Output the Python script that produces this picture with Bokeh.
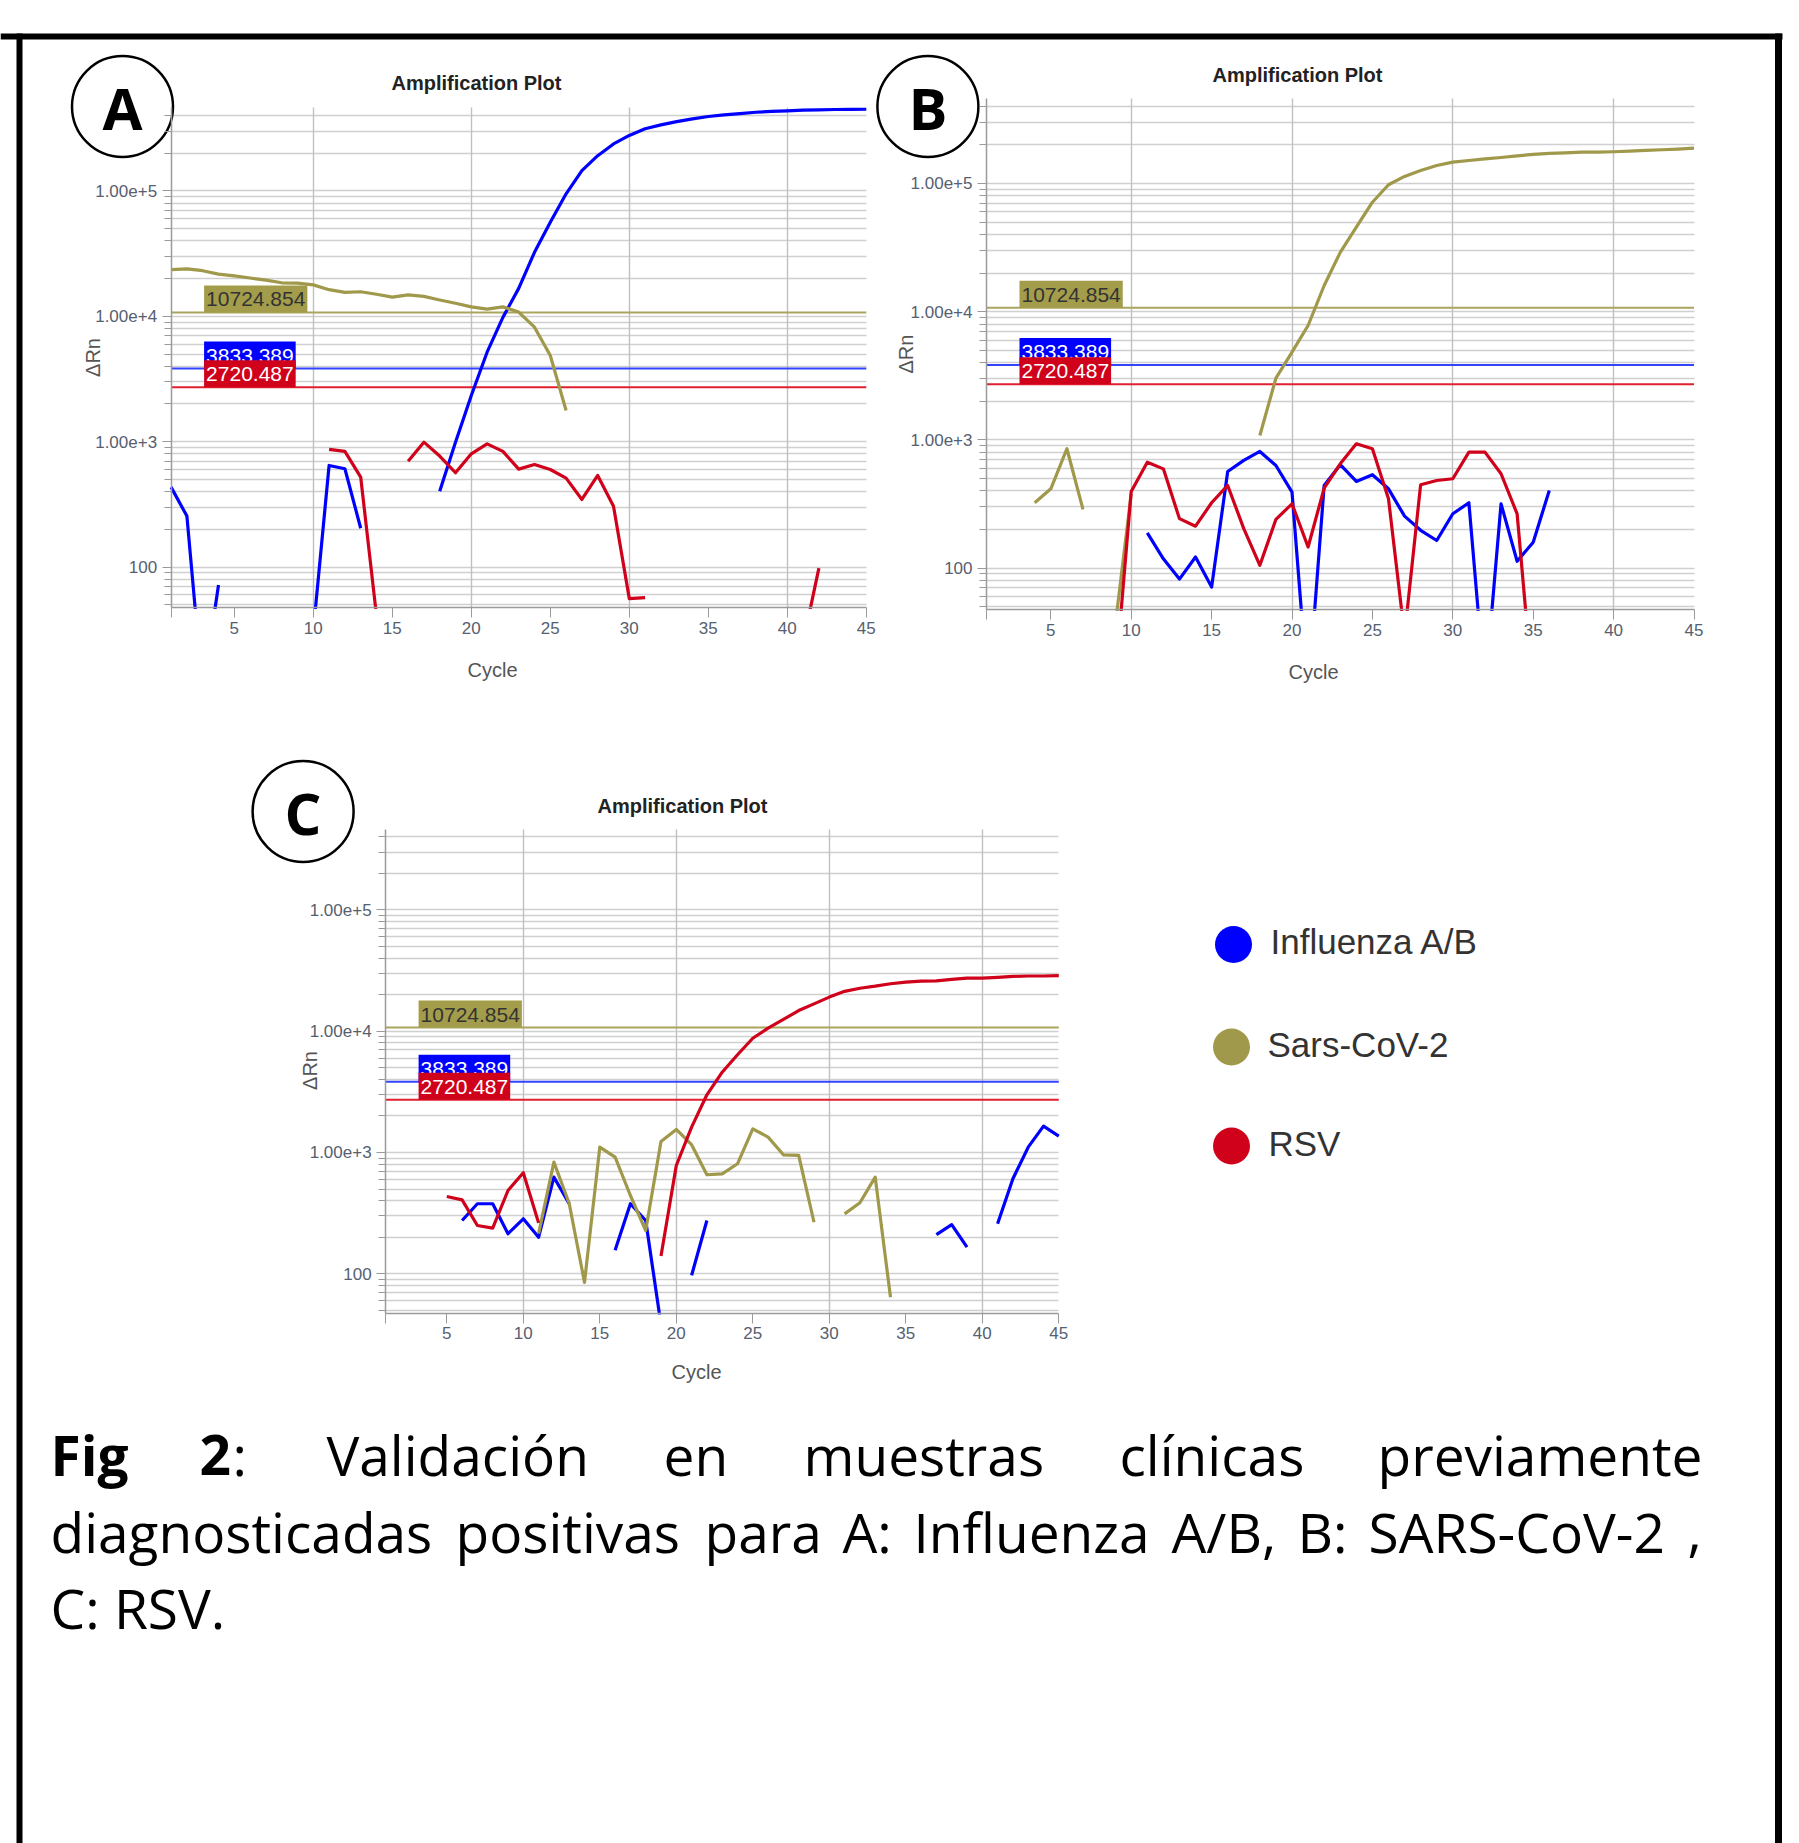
import numpy as np
from bokeh.plotting import figure
from bokeh.models import (Range1d, LinearScale, LogScale, LinearAxis, LogAxis, FixedTicker,
                          Grid, Label, CustomJSTickFormatter)
from bokeh.core.properties import value
from bokeh.embed import file_html
from bokeh.resources import INLINE

nan = np.nan

# ---------------- data ----------------
CYCLES = list(range(1, 46))

# Panel A (Influenza A/B positive sample)
A_FLU = [434, 255, 10, 72, nan, nan, nan, nan, nan, 31, 646, 608, 204, nan, nan, nan, nan,
         403, 990, 2335, 5170, 9800, 16700, 32400, 56300, 94800, 145000, 191000, 237000,
         277000, 313000, 336000, 357000, 375000, 392000, 404000, 414000, 424000, 430000,
         435000, 440000, 443000, 446000, 447000, 448000]
A_SARS = [23600, 23900, 23100, 21700, 21000, 20200, 19400, 18500, 18400, 17800, 16300, 15500,
          15700, 15000, 14200, 14800, 14400, 13500, 12700, 11900, 11400, 11900, 10800, 8190,
          4870, 1774] + [nan] * 19
A_RSV = [nan] * 10 + [867, 836, 521, 41, nan, 699, 991, 768, 565, 800, 961, 836, 604, 658, 600,
                      512, 346, 538, 306, 56, 57] + [nan] * 9 + [25, 98, nan, nan, nan]

# Panel B (SARS-CoV-2 positive sample)
B_FLU = [nan] * 10 + [188, 118, 82, 122, 71, 567, 691, 812, 631, 391, 10, 441, 640, 474, 535,
                      415, 254, 197, 164, 265, 323, 11, 317, 113, 159, 403] + [nan] * 9
B_SARS = [nan, nan, nan, 323, 415, 852, 287, nan, 35, 380] + [nan] * 7 + \
         [1082, 3030, 4830, 7800, 16000, 29000, 45600, 71400, 97700, 113500, 126300, 138000,
          146600, 151000, 155600, 159500, 164400, 168400, 171500, 173500, 175700, 175700,
          176700, 178800, 181000, 183200, 185500, 188700]
B_RSV = [nan] * 8 + [13, 396, 670, 594, 243, 212, 323, 441, 203, 105, 240, 317, 146, 420, 650,
                     932, 852, 347, 30, 447, 482, 497, 802, 802, 544, 265, 10] + [nan] * 10

# Panel C (RSV positive sample)
C_FLU = [nan] * 5 + [275, 378, 378, 214, 284, 200, 626, 378, nan, nan, 156, 378, 275, 38, nan,
                     97, 275] + [nan] * 14 + [210, 254, 166, nan, 258, 607, 1106, 1648, 1362]
C_SARS = [nan] * 10 + [214, 832, 380, 85, 1106, 915, 442, 227, 1233, 1548, 1159, 655, 667, 807,
                       1568, 1339, 957, 946, 266, nan, 312, 385, 626, 64] + [nan] * 11
C_RSV = [nan] * 4 + [434, 407, 250, 238, 486, 680, 263] + [nan] * 7 + \
        [140, 781, 1617, 2990, 4590, 6390, 8750, 10600, 12500, 14800, 16800, 19100, 21300,
         22600, 23500, 24600, 25400, 25900, 26000, 26700, 27400, 27400, 27800, 28300, 28500,
         28500, 28700]

SERIES_NAMES = ["Influenza A/B", "Sars-CoV-2", "RSV"]
COLORS = ["#0000ff", "#a0984a", "#d0021b"]

THRESHOLDS = [10724.854, 3833.389, 2720.487]
THRESHOLD_LABELS = ["10724.854", "3833.389", "2720.487"]
THRESHOLD_LINE_COLORS = ["#aaa45c", "#3344ff", "#e0202f"]
THRESHOLD_BG = ["#a39d4b", "#0000ff", "#d0021b"]
THRESHOLD_FG = ["#333333", "#ffffff", "#ffffff"]

X_MIN, X_MAX = 1, 45
Y_MIN, Y_MAX = 47.5, 4.6e5
X_TICKS = [1, 5, 10, 15, 20, 25, 30, 35, 40, 45]
X_GRID = [10, 20, 30, 40]
Y_MAJOR = [100, 1000, 10000, 100000]
Y_MINOR = [m * 10 ** k for k in range(1, 6) for m in range(2, 10) if Y_MIN <= m * 10 ** k <= Y_MAX]

PANEL_TITLE = "Amplification Plot"
X_LABEL = "Cycle"
Y_LABEL = "ΔRn"

CAPTION = [
    [("Fig", True), ("2", True), (":", False), ("Validación", False), ("en", False),
     ("muestras", False), ("clínicas", False), ("previamente", False)],
    [("diagnosticadas", False), ("positivas", False), ("para", False), ("A:", False),
     ("Influenza", False), ("A/B,", False), ("B:", False), ("SARS-CoV-2", False), (",", False)],
    [("C: RSV.", False)],
]

# ---------------- layout (page pixels) ----------------
PX0, PY0 = 0, 0
W, H = 1799, 1843

PANELS = [
    dict(key="A", data=(A_FLU, A_SARS, A_RSV), x1=170.6, x45=865.8, ytop=107.3, ybot=607.1,
         title=(476, 82.5), xlab=(492, 669), ylab=(92.4, 357), circ=(122, 106),
         mask_depth=100),
    dict(key="B", data=(B_FLU, B_SARS, B_RSV), x1=986.0, x45=1693.5, ytop=98.0, ybot=609.0,
         title=(1297, 74), xlab=(1313, 671), ylab=(905.5, 353.6), circ=(927.4, 106),
         mask_depth=100),
    dict(key="C", data=(C_FLU, C_SARS, C_RSV), x1=385.1, x45=1058.3, ytop=829.0, ybot=1312.5,
         title=(682, 805.5), xlab=(696, 1371), ylab=(309.7, 1070), circ=(302.6, 811),
         mask_depth=45),
]

CAPTION_X = [
    [50, 199, 232, 326, 663, 803, 1119, 1377],
    [50, 455, 704, 842, 913, 1171, 1297, 1368, 1687],
    [50],
]
CAPTION_BASELINE = [1473, 1550, 1626]
CAPTION_SIZE = 55

LEGEND_DOT_XY = [(1233, 944), (1231, 1046.5), (1231, 1145.5)]
LEGEND_TEXT_XY = [(1270, 941), (1267, 1044), (1268, 1143)]

PLOT_FONT = "Liberation Sans"
AXIS_GRAY = "#9a9a9a"
TICK_TEXT = "#566070"
LABEL_PADDING = dict(left=2, right=2, top=7, bottom=6)

p = figure(width=W, height=H, x_range=Range1d(PX0, PX0 + W), y_range=Range1d(PY0 + H, PY0),
           x_axis_location=None, y_axis_location=None, toolbar_location=None,
           output_backend="svg", min_border=0, outline_line_color=None,
           background_fill_color="white", border_fill_color="white")
for g in p.select(type=Grid):
    g.visible = False

# extra ranges mapping each panel's data space onto its pixel box
xr, yr, xs, ys = {}, {}, {}, {}
for P in PANELS:
    k = P["key"]
    kx = (X_MAX - X_MIN) / (P["x45"] - P["x1"])
    xr["x" + k] = Range1d(X_MIN - (P["x1"] - PX0) * kx, X_MAX + (PX0 + W - P["x45"]) * kx)
    ly0, ly1 = np.log10(Y_MIN), np.log10(Y_MAX)
    ky = (ly1 - ly0) / (P["ybot"] - P["ytop"])
    yr["y" + k] = Range1d(10 ** (ly0 - (PY0 + H - P["ybot"]) * ky), 10 ** (ly1 + (P["ytop"] - PY0) * ky))
    xs["x" + k] = LinearScale()
    ys["y" + k] = LogScale()
p.extra_x_ranges = xr
p.extra_y_ranges = yr
p.extra_x_scales = xs
p.extra_y_scales = ys

fmt_code = "return tick < 1000 ? tick.toFixed(0) : tick.toExponential(2);"

for P in PANELS:
    k = P["key"]
    xn, yn = "x" + k, "y" + k
    hg = Grid(dimension=1, ticker=FixedTicker(ticks=Y_MAJOR, minor_ticks=Y_MINOR),
              x_range_name=xn, y_range_name=yn, bounds=(Y_MIN, Y_MAX), cross_bounds=(X_MIN, X_MAX),
              grid_line_color="#d0d0d0", grid_line_width=1.6,
              minor_grid_line_color="#d0d0d0", minor_grid_line_width=1.6)
    vg = Grid(dimension=0, ticker=FixedTicker(ticks=X_GRID), x_range_name=xn, y_range_name=yn,
              bounds=(X_MIN, X_MAX), cross_bounds=(Y_MIN, Y_MAX),
              grid_line_color="#c0c0c0", grid_line_width=1.4)
    p.add_layout(hg)
    p.add_layout(vg)

    for t, c in zip(THRESHOLDS, THRESHOLD_LINE_COLORS):
        p.line([X_MIN, X_MAX], [t, t], x_range_name=xn, y_range_name=yn, line_color=c, line_width=2)

    for vals, c in zip(P["data"], COLORS):
        p.line(np.array(CYCLES, dtype=float), np.array(vals, dtype=float), x_range_name=xn,
               y_range_name=yn, line_color=c, line_width=3.2, line_join="round")

    yax = LogAxis(x_range_name=xn, y_range_name=yn, fixed_location=X_MIN, bounds=(Y_MIN, Y_MAX),
                  ticker=FixedTicker(ticks=Y_MAJOR, minor_ticks=Y_MINOR),
                  formatter=CustomJSTickFormatter(code=fmt_code),
                  axis_line_color=AXIS_GRAY, axis_line_width=1.5,
                  major_tick_line_color=AXIS_GRAY, minor_tick_line_color=AXIS_GRAY,
                  major_tick_out=9, major_tick_in=0, minor_tick_out=7, minor_tick_in=0,
                  major_label_standoff=5, major_label_text_font=PLOT_FONT,
                  major_label_text_font_size="17px", major_label_text_color=TICK_TEXT)
    p.add_layout(yax, "left")
    xax = LinearAxis(x_range_name=xn, y_range_name=yn, fixed_location=Y_MIN, bounds=(X_MIN, X_MAX),
                     ticker=FixedTicker(ticks=X_TICKS), major_label_overrides={1: ""},
                     axis_line_color=AXIS_GRAY, axis_line_width=1.5,
                     major_tick_line_color=AXIS_GRAY, major_tick_out=10, major_tick_in=0,
                     minor_tick_line_color=None, major_label_standoff=4,
                     major_label_text_font=PLOT_FONT, major_label_text_font_size="17px",
                     major_label_text_color=TICK_TEXT)
    p.add_layout(xax, "below")

    for t, lab, bg, fg in zip(THRESHOLDS, THRESHOLD_LABELS, THRESHOLD_BG, THRESHOLD_FG):
        p.add_layout(Label(x=X_MIN, y=t, x_offset=33, x_range_name=xn, y_range_name=yn, text=lab,
                           anchor="bottom_left", background_fill_color=bg, text_color=fg,
                           text_font=PLOT_FONT, text_font_size="21px", padding=LABEL_PADDING))

# white masks hide the parts of curves that fall below each panel's axis
p.quad(left=[P["x1"] - 12 for P in PANELS], right=[P["x45"] + 12 for P in PANELS],
       top=[P["ybot"] + 1.5 for P in PANELS], bottom=[P["ybot"] + P["mask_depth"] for P in PANELS],
       fill_color="white", line_color=None)

# titles and axis labels
p.text(x=[P["title"][0] for P in PANELS], y=[P["title"][1] for P in PANELS],
       text=[PANEL_TITLE] * 3, text_align="center", text_baseline="middle",
       text_font=value(PLOT_FONT), text_font_style="bold", text_font_size="20px",
       text_color="#222222")
p.text(x=[P["xlab"][0] for P in PANELS], y=[P["xlab"][1] for P in PANELS],
       text=[X_LABEL] * 3, text_align="center", text_baseline="middle",
       text_font=value(PLOT_FONT), text_font_size="20px", text_color="#555555")
p.text(x=[P["ylab"][0] for P in PANELS], y=[P["ylab"][1] for P in PANELS],
       text=[Y_LABEL] * 3, text_align="center", text_baseline="middle", angle=np.pi / 2,
       text_font=value(PLOT_FONT), text_font_size="20px", text_color="#555555")

# panel letters in circles
p.circle(x=[P["circ"][0] for P in PANELS], y=[P["circ"][1] for P in PANELS], radius=50.5,
         fill_color=None, line_color="black", line_width=2.5)
p.text(x=[P["circ"][0] for P in PANELS], y=[P["circ"][1] + 1 for P in PANELS],
       text=[P["key"] for P in PANELS], text_align="center", text_baseline="middle",
       text_font=value("Open Sans"), text_font_style="bold", text_font_size="58px",
       text_color="black")

# legend
p.scatter(x=[xy[0] for xy in LEGEND_DOT_XY], y=[xy[1] for xy in LEGEND_DOT_XY], size=37,
          marker="circle", fill_color=COLORS, line_color=None)
p.text(x=[xy[0] for xy in LEGEND_TEXT_XY], y=[xy[1] for xy in LEGEND_TEXT_XY], text=SERIES_NAMES,
       text_baseline="middle", text_font=value(PLOT_FONT), text_font_size="35px",
       text_color="#333333")

# caption (justified: each word placed)
for words, xs_, yb in zip(CAPTION, CAPTION_X, CAPTION_BASELINE):
    for (w, bold), x in zip(words, xs_):
        p.text(x=[x], y=[yb - 0.34 * CAPTION_SIZE], text=[w], text_baseline="middle",
               text_font=value("Open Sans"), text_font_size=f"{CAPTION_SIZE}px",
               text_font_style="bold" if bold else "normal", text_color="black")

# outer frame
p.line([0, 1782], [36, 36], line_color="black", line_width=6)
p.line([19, 19], [33, H], line_color="black", line_width=6)
p.line([1778, 1778], [33, H], line_color="black", line_width=7)

open("out.html", "w").write(file_html(p, INLINE))
